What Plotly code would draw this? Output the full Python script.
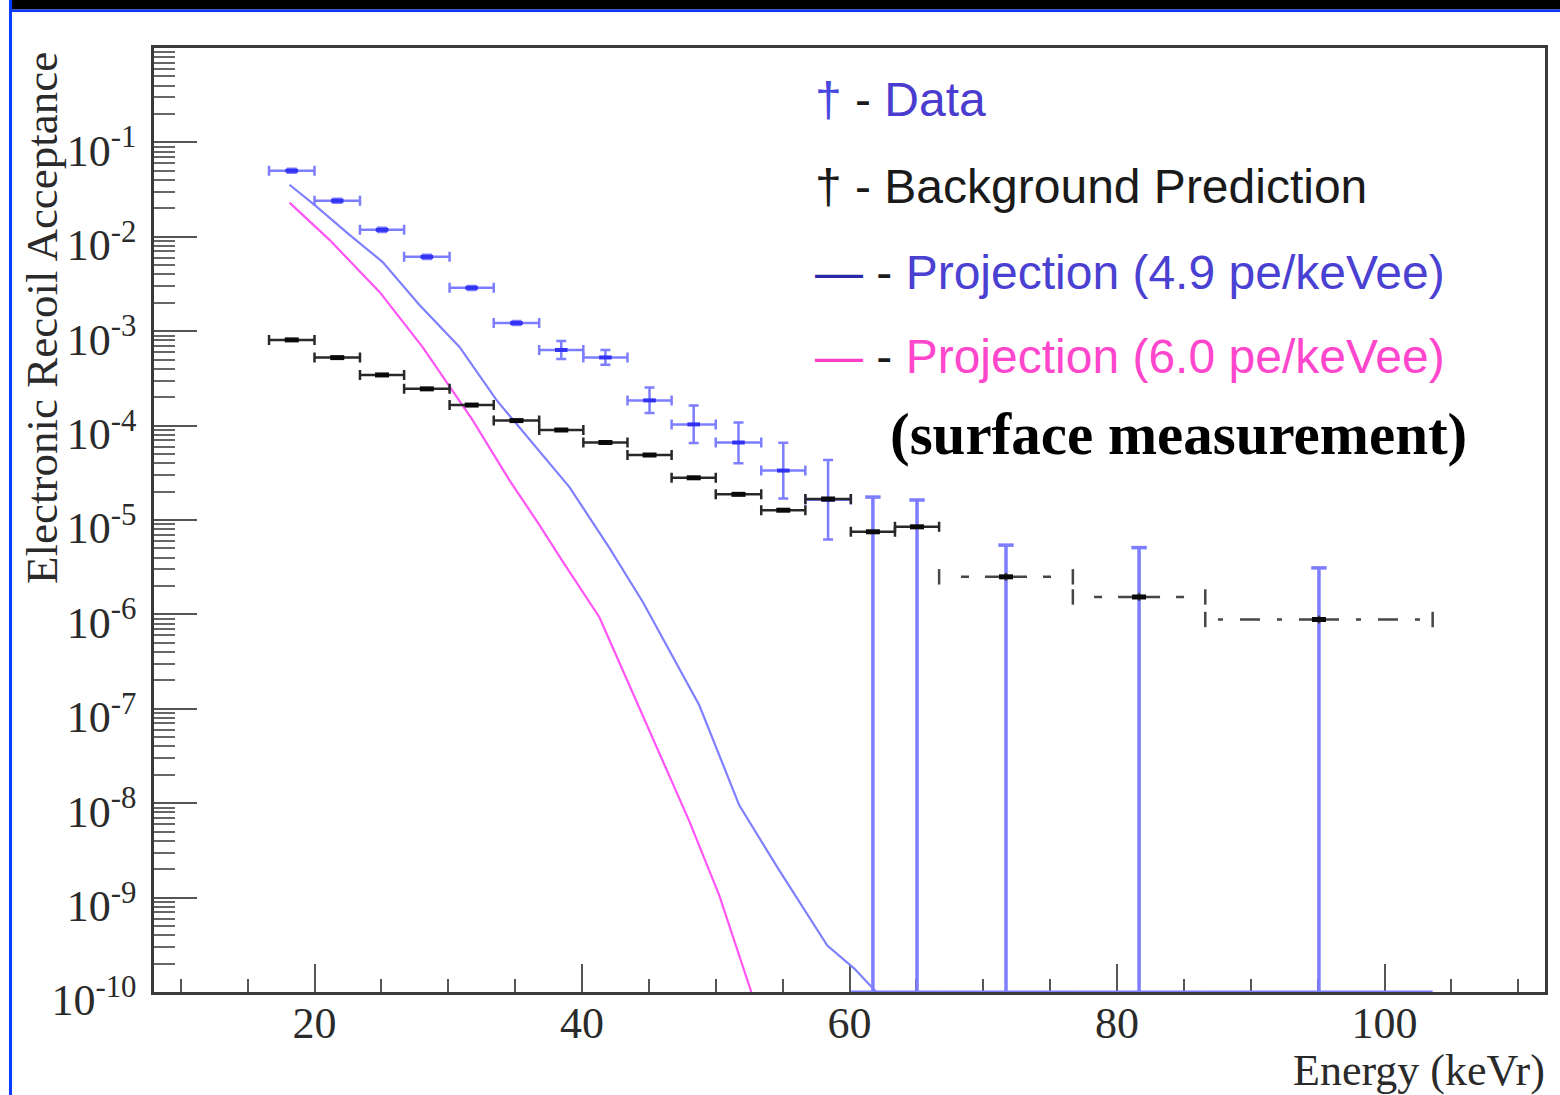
import plotly.graph_objects as go

# ---------------- data ----------------
# energy bins (keVr)
bin_lo = [16.6, 20.0, 23.4, 26.7, 30.1, 33.4, 36.8, 40.1, 43.4, 46.7, 50.0, 53.4,
          56.7, 60.1, 63.4, 66.7, 76.7, 86.6]
bin_hi = [20.0, 23.4, 26.7, 30.1, 33.4, 36.8, 40.1, 43.4, 46.7, 50.0, 53.4, 56.7,
          60.1, 63.4, 66.7, 76.7, 86.6, 103.6]

# measured electronic recoil acceptance (bins with counts)
data_val = [0.0501, 0.0241, 0.01186, 6.13e-3, 2.88e-3, 1.22e-3, 6.33e-4, 5.27e-4,
            1.85e-4, 1.03e-4, 6.62e-5, 3.34e-5, 1.64e-5]
data_up = [0.0526, 0.0253, 0.01245, 6.44e-3, 3.02e-3, 1.28e-3, 7.87e-4, 6.33e-4,
           2.54e-4, 1.63e-4, 1.08e-4, 6.59e-5, 4.31e-5]
data_dn = [0.0476, 0.0229, 0.01127, 5.82e-3, 2.74e-3, 1.16e-3, 5.07e-4, 4.40e-4,
           1.36e-4, 6.53e-5, 3.98e-5, 1.69e-5, 6.22e-6]
# empty bins: upper error only
limit_up = [1.75e-5, 1.63e-5, 5.42e-6, 5.10e-6, 3.11e-6]

# background prediction
bkg_val = [8.09e-4, 5.25e-4, 3.44e-4, 2.45e-4, 1.65e-4, 1.13e-4, 8.98e-5, 6.62e-5,
           4.88e-5, 2.80e-5, 1.87e-5, 1.27e-5, 1.67e-5, 7.50e-6, 8.47e-6, 2.50e-6,
           1.53e-6, 8.83e-7]

# projections
proj49_E = [18.13, 20.00, 22.62, 25.08, 27.85, 30.84, 33.60, 36.82, 39.06, 42.06,
            44.59, 48.77, 51.76, 54.75, 58.34, 60.36, 62.0]
proj49_val = [0.0356, 0.0218, 0.0105, 5.43e-3, 1.90e-3, 6.82e-4, 1.87e-4, 5.25e-5,
              2.23e-5, 5.04e-6, 1.32e-6, 1.09e-7, 9.5e-9, 1.94e-9, 3.10e-10,
              1.77e-10, 1.0e-10]
proj60_E = [18.13, 21.12, 24.86, 28.07, 31.81, 34.57, 36.82, 38.54, 41.30, 45.11,
            48.03, 50.27, 52.66]
proj60_val = [0.0230, 9.29e-3, 2.61e-3, 6.82e-4, 1.15e-4, 2.65e-5, 8.83e-6, 3.67e-6,
              9.33e-7, 5.50e-8, 6.41e-9, 1.05e-9, 1.0e-10]

# axis ranges
X_RANGE = [8, 112]
Y_LOG_RANGE = [-10, 0]
Y_FLOOR = 10 ** Y_LOG_RANGE[0]

y_tick_vals = [1e-10, 1e-9, 1e-8, 1e-7, 1e-6, 1e-5, 1e-4, 1e-3, 1e-2, 1e-1]
y_tick_text = ["10<sup>-10</sup>", "10<sup>-9</sup>", "10<sup>-8</sup>", "10<sup>-7</sup>",
               "10<sup>-6</sup>", "10<sup>-5</sup>", "10<sup>-4</sup>", "10<sup>-3</sup>",
               "10<sup>-2</sup>", "10<sup>-1</sup>"]

# ---------------- styling ----------------
W, H = 1560, 1095
ML, MR, MT, MB = 154, 15, 48, 103
PW, PH = W - ML - MR, H - MT - MB


def fx(px):
    return (px - ML) / PW


def fy(py):
    return (H - MB - py) / PH


DATA_BAR = "rgb(125,125,255)"
DATA_DOT = "rgb(50,50,245)"
BKG = "rgb(40,40,40)"
P49 = "rgb(128,128,255)"
P60 = "rgb(255,85,245)"
SERIF = "Liberation Serif"
SANS = "Liberation Sans"

centers = [(a + b) / 2 for a, b in zip(bin_lo, bin_hi)]
n_data = len(data_val)
n_solid = 15  # background bins drawn with solid bars

fig = go.Figure()

# projections
fig.add_trace(go.Scatter(x=proj49_E, y=proj49_val, mode="lines",
                         line=dict(color=P49, width=2.2)))
fig.add_trace(go.Scatter(x=proj60_E, y=proj60_val, mode="lines",
                         line=dict(color=P60, width=2.2)))

# data with error bars
dc = centers[:n_data]
fig.add_trace(go.Scatter(
    x=dc, y=data_val, mode="markers",
    marker=dict(symbol="line-ew", size=9, line=dict(width=4, color=DATA_DOT)),
    error_x=dict(type="data", symmetric=False,
                 array=[h - c for h, c in zip(bin_hi[:n_data], dc)],
                 arrayminus=[c - l for l, c in zip(bin_lo[:n_data], dc)],
                 width=5, thickness=2.5, color=DATA_BAR),
    error_y=dict(type="data", symmetric=False,
                 array=[u - v for u, v in zip(data_up, data_val)],
                 arrayminus=[v - d for v, d in zip(data_val, data_dn)],
                 width=5, thickness=2.5, color=DATA_BAR),
))

# empty data bins: vertical bars from the axis floor up to the upper error
lc = centers[n_data:]
vx, vy = [], []
for c, u in zip(lc, limit_up):
    vx += [c, c, None]
    vy += [Y_FLOOR, u, None]
fig.add_trace(go.Scatter(x=vx, y=vy, mode="lines",
                         line=dict(color=DATA_BAR, width=3.5)))
fig.add_trace(go.Scatter(x=lc, y=limit_up, mode="markers",
                         marker=dict(symbol="line-ew", size=11,
                                     line=dict(width=3.5, color=DATA_BAR))))
# their horizontal bars sit on the floor
hx, hy = [], []
for lo, hi in zip(bin_lo[n_data:], bin_hi[n_data:]):
    hx += [lo, hi, None]
    hy += [Y_FLOOR, Y_FLOOR, None]
fig.add_trace(go.Scatter(x=hx, y=hy, mode="lines",
                         line=dict(color=DATA_BAR, width=3)))

# background prediction: narrow bins
bc = centers[:n_solid]
fig.add_trace(go.Scatter(
    x=bc, y=bkg_val[:n_solid], mode="markers",
    marker=dict(symbol="line-ew", size=10, line=dict(width=5, color="rgb(10,10,10)")),
    error_x=dict(type="data", symmetric=False,
                 array=[h - c for h, c in zip(bin_hi[:n_solid], bc)],
                 arrayminus=[c - l for l, c in zip(bin_lo[:n_solid], bc)],
                 width=5, thickness=2.5, color=BKG),
))

# background prediction: wide bins, drawn outward from the centre with dashes
wide_dash = ["21px,16px,8px,60px", "21px,16px,8px,60px", "20px,17px,5px,17px"]
for i, dash in zip(range(n_solid, len(bkg_val)), wide_dash):
    c, v = centers[i], bkg_val[i]
    fig.add_trace(go.Scatter(
        x=[c, bin_lo[i], None, c, bin_hi[i]], y=[v, v, None, v, v], mode="lines",
        line=dict(color="rgb(70,70,70)", width=2.5, dash=dash)))
    fig.add_trace(go.Scatter(
        x=[bin_lo[i], bin_hi[i]], y=[v, v], mode="markers",
        marker=dict(symbol="line-ns", size=11, line=dict(width=2.5, color="rgb(70,70,70)"))))
wc = centers[n_solid:]
fig.add_trace(go.Scatter(
    x=wc, y=bkg_val[n_solid:], mode="markers",
    marker=dict(symbol="line-ew", size=10, line=dict(width=5, color="rgb(10,10,10)")),
    error_y=dict(type="data", symmetric=False,
                 array=[0.1 * v for v in bkg_val[n_solid:]],
                 arrayminus=[0.09 * v for v in bkg_val[n_solid:]],
                 width=0, thickness=2.5, color="rgb(70,70,70)"),
))

# ---------------- layout ----------------
tick_font = dict(family=SERIF, size=44, color="#2a2a2a")

fig.update_layout(
    width=W, height=H,
    margin=dict(l=ML, r=MR, t=MT, b=MB, pad=0),
    paper_bgcolor="white", plot_bgcolor="white",
    showlegend=False,
    xaxis=dict(
        range=X_RANGE, showgrid=False, zeroline=False,
        showline=True, linecolor="#3a3a3a", linewidth=2.5, mirror=True,
        ticks="inside", ticklen=28, tickwidth=2, tickcolor="#555",
        tick0=0, dtick=20, tickfont=tick_font, ticklabelstandoff=-10,
        minor=dict(dtick=5, ticks="inside", ticklen=13, tickwidth=2,
                   tickcolor="#555", showgrid=False),
        layer="below traces",
    ),
    yaxis=dict(
        type="log", range=Y_LOG_RANGE, showgrid=False, zeroline=False,
        showline=True, linecolor="#3a3a3a", linewidth=2.5, mirror=True,
        ticks="inside", ticklen=43, tickwidth=2, tickcolor="#555",
        tickmode="array", tickvals=y_tick_vals, ticktext=y_tick_text,
        tickfont=tick_font, ticklabelstandoff=6, ticklabelshift=8,
        minor=dict(dtick="D1", ticks="inside", ticklen=21, tickwidth=2,
                   tickcolor="#666", showgrid=False),
        layer="below traces",
    ),
)

# slide frame decoration
fig.add_shape(type="rect", xref="paper", yref="paper", layer="above",
              x0=fx(12), x1=fx(W), y0=fy(9.5), y1=fy(0),
              fillcolor="black", line=dict(width=0))
fig.add_shape(type="rect", xref="paper", yref="paper", layer="above",
              x0=fx(9), x1=fx(W), y0=fy(12), y1=fy(9.5),
              fillcolor="#0a3cff", line=dict(width=0))
fig.add_shape(type="rect", xref="paper", yref="paper", layer="above",
              x0=fx(9), x1=fx(12), y0=fy(H), y1=fy(0),
              fillcolor="#0a3cff", line=dict(width=0))

# axis titles
fig.add_annotation(text="Electronic Recoil Acceptance", textangle=-90,
                   xref="paper", yref="paper", x=fx(42), y=fy(50),
                   xanchor="center", yanchor="top", showarrow=False,
                   font=dict(family=SERIF, size=45, color="#2a2a2a"))
fig.add_annotation(text="Energy (keVr)", xref="paper", yref="paper",
                   x=fx(1547), y=fy(1070), xanchor="right", yanchor="middle",
                   showarrow=False, font=dict(family=SERIF, size=44, color="#2a2a2a"))

# legend text
legend_rows = [
    ("<span style='color:#4848e0'>†</span><span style='color:#1a1a1a'> - </span>"
     "<span style='color:#4a3ccf'>Data</span>", 100),
    ("<span style='color:#1a1a1a'>† - Background Prediction</span>", 186),
    ("<span style='color:#2a2aa8'>—</span><span style='color:#1a1a1a'> - </span>"
     "<span style='color:#4a40d2'>Projection (4.9 pe/keVee)</span>", 272),
    ("<span style='color:#ff3cc8'>—</span><span style='color:#1a1a1a'> - </span>"
     "<span style='color:#ff46cc'>Projection (6.0 pe/keVee)</span>", 357),
]
for txt, py in legend_rows:
    fig.add_annotation(text=txt, xref="paper", yref="paper", x=fx(813), y=fy(py),
                       xanchor="left", yanchor="middle", showarrow=False,
                       font=dict(family=SANS, size=48))

fig.add_annotation(text="<b>(surface measurement)</b>", xref="paper", yref="paper",
                   x=fx(888), y=fy(434), xanchor="left", yanchor="middle",
                   showarrow=False, font=dict(family=SERIF, size=59, color="black"))

fig.write_html("out.html")
